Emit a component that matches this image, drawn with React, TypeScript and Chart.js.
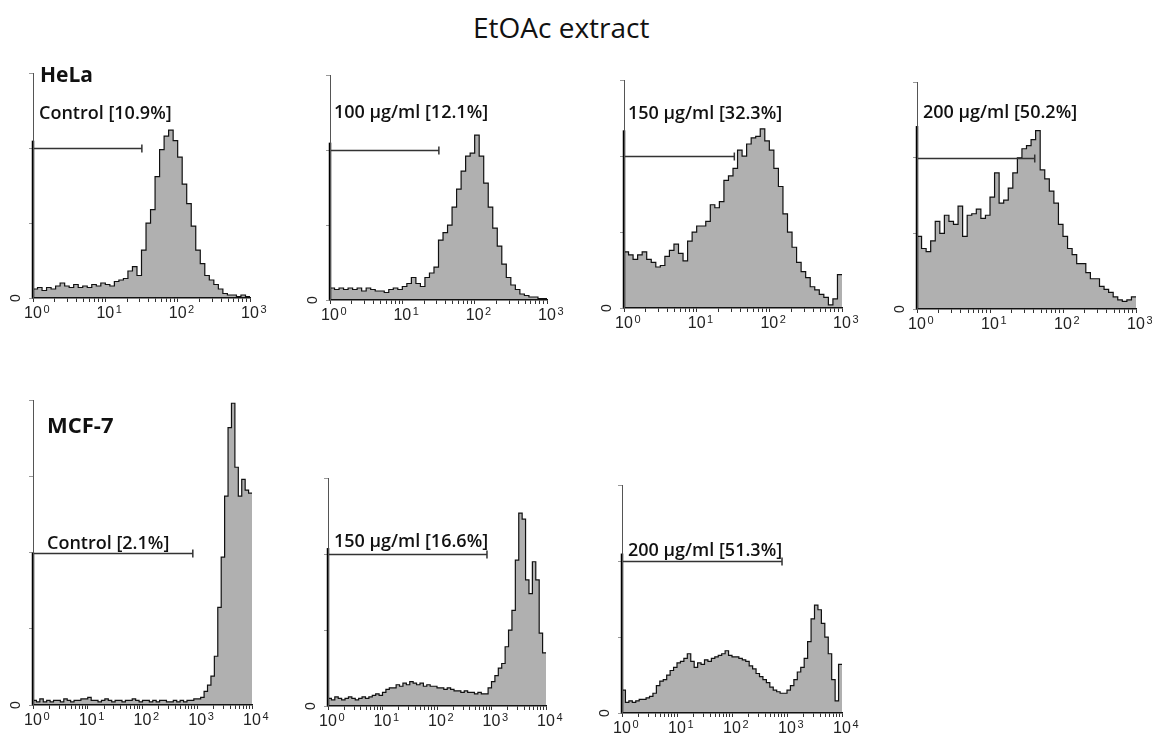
import React, { useEffect, useRef } from 'react';
import { Chart, registerables } from 'chart.js';
Chart.register(...registerables);

// ---------- data ----------
const titleText = 'EtOAc extract';
const rowLabels = ['HeLa', 'MCF-7'];
const xTickBase = '10';
const xTickExponentsTop = ['0', '1', '2', '3'];
const xTickExponentsBottom = ['0', '1', '2', '3', '4'];
const yZeroLabel = '0';
const binsPerDecade = 16;
const gateLevel = 100;

const panelNames = [
  'Control [10.9%]',
  '100 µg/ml [12.1%]',
  '150 µg/ml [32.3%]',
  '200 µg/ml [50.2%]',
  'Control [2.1%]',
  '150 µg/ml [16.6%]',
  '200 µg/ml [51.3%]',
];

// histogram counts, 16 bins per decade (log fluorescence)
const helaControl = [6, 7, 5, 7, 6, 8, 10, 8, 7, 9, 7, 8, 7, 9, 8, 10, 9, 8, 11, 12, 13, 18, 21, 15, 32, 50, 59, 81, 99, 108, 112, 105, 94, 76, 63, 48, 32, 23, 15, 12, 9, 6, 3, 2, 2, 1, 2, 1];
const hela100 = [8, 7, 8, 7, 8, 7, 8, 6, 8, 7, 6, 6, 5, 7, 8, 7, 9, 11, 15, 11, 9, 15, 18, 22, 40, 45, 50, 62, 74, 86, 96, 98, 110, 96, 78, 62, 48, 36, 24, 15, 10, 7, 4, 3, 2, 2, 1, 1];
const hela150 = [37, 35, 32, 35, 37, 32, 30, 27, 28, 34, 38, 42, 36, 31, 44, 50, 54, 54, 57, 68, 66, 70, 84, 87, 92, 104, 100, 108, 112, 113, 118, 110, 104, 92, 80, 62, 50, 40, 30, 24, 20, 14, 12, 9, 7, 2, 6, 22];
const hela200 = [48, 40, 38, 45, 58, 50, 62, 58, 56, 68, 48, 62, 63, 66, 60, 62, 74, 90, 70, 72, 80, 90, 100, 106, 108, 112, 118, 92, 86, 78, 70, 56, 48, 40, 36, 30, 30, 24, 20, 20, 15, 13, 11, 8, 6, 5, 6, 8];
const mcfControl = [3, 2, 4, 2, 3, 2, 3, 3, 2, 4, 3, 2, 3, 3, 4, 4, 5, 3, 3, 2, 3, 4, 3, 2, 3, 3, 2, 3, 3, 4, 3, 2, 3, 3, 2, 3, 2, 3, 3, 2, 2, 3, 2, 3, 2, 3, 3, 4, 4, 5, 9, 13, 19, 32, 64, 97, 137, 182, 198, 156, 137, 148, 141, 139];
const mcf150 = [5, 4, 6, 5, 4, 5, 6, 5, 4, 5, 6, 5, 6, 7, 8, 7, 9, 11, 12, 12, 14, 13, 15, 14, 16, 15, 14, 15, 13, 14, 13, 13, 12, 12, 11, 12, 11, 10, 10, 9, 10, 9, 9, 8, 9, 8, 8, 12, 16, 20, 25, 28, 39, 50, 63, 96, 127, 123, 83, 74, 95, 83, 48, 35];
const mcf200 = [15, 7, 8, 7, 8, 9, 9, 10, 11, 13, 18, 21, 22, 25, 28, 30, 33, 34, 36, 39, 34, 30, 33, 32, 35, 34, 36, 37, 38, 39, 41, 38, 37, 37, 36, 35, 34, 31, 29, 26, 24, 22, 20, 17, 15, 14, 13, 13, 15, 18, 22, 27, 30, 36, 47, 62, 71, 68, 59, 50, 39, 22, 8, 32];

const gateEnds = [32, 32, 33, 41, 830, 826, 812];
const pileUps = [105, 105, 117, 121, 100, 104, 105];
const yMaxes = [150, 150, 150, 150, 200, 150, 150];

// ---------- layout ----------
const PAD_L = 34;
const PAD_T = 10;
const PAD_R = 22;
const X_H = 26;
const TICK_FONT = '"Liberation Sans", "DejaVu Sans", sans-serif';

type Panel = {
  values: number[];
  decades: number;
  exps: string[];
  yMax: number;
  gateEnd: number;
  pile: number;
  label: string;
  labelY: number;
  labelDx: number;
  box: { x: number; top: number; right: number; bottom: number };
};

const panels: Panel[] = [
  { values: helaControl, decades: 3, exps: xTickExponentsTop, yMax: yMaxes[0], gateEnd: gateEnds[0], pile: pileUps[0], label: panelNames[0], labelY: 123, labelDx: 6, box: { x: 33, top: 73, right: 250, bottom: 298 } },
  { values: hela100, decades: 3, exps: xTickExponentsTop, yMax: yMaxes[1], gateEnd: gateEnds[1], pile: pileUps[1], label: panelNames[1], labelY: 125, labelDx: 4, box: { x: 330, top: 75, right: 547, bottom: 300 } },
  { values: hela150, decades: 3, exps: xTickExponentsTop, yMax: yMaxes[2], gateEnd: gateEnds[2], pile: pileUps[2], label: panelNames[2], labelY: 128, labelDx: 4, box: { x: 624, top: 80, right: 842, bottom: 308 } },
  { values: hela200, decades: 3, exps: xTickExponentsTop, yMax: yMaxes[3], gateEnd: gateEnds[3], pile: pileUps[3], label: panelNames[3], labelY: 130, labelDx: 6, box: { x: 917, top: 82, right: 1136, bottom: 309 } },
  { values: mcfControl, decades: 4, exps: xTickExponentsBottom, yMax: yMaxes[4], gateEnd: gateEnds[4], pile: pileUps[4], label: panelNames[4], labelY: 106, labelDx: 14, box: { x: 33, top: 400, right: 252, bottom: 705 } },
  { values: mcf150, decades: 4, exps: xTickExponentsBottom, yMax: yMaxes[5], gateEnd: gateEnds[5], pile: pileUps[5], label: panelNames[5], labelY: 108, labelDx: 6, box: { x: 328, top: 478, right: 546, bottom: 706 } },
  { values: mcf200, decades: 4, exps: xTickExponentsBottom, yMax: yMaxes[6], gateEnd: gateEnds[6], pile: pileUps[6], label: panelNames[6], labelY: 107, labelDx: 6, box: { x: 622, top: 485, right: 842, bottom: 713 } },
];

function HistPanel({ p }: { p: Panel }) {
  const ref = useRef<HTMLCanvasElement>(null);
  const w = p.box.right - p.box.x + PAD_L + PAD_R;
  const h = p.box.bottom - p.box.top + PAD_T + X_H;

  useEffect(() => {
    if (!ref.current) return;
    const pts = p.values.map((v, i) => ({ x: Math.pow(10, i / binsPerDecade), y: v }));
    pts.push({ x: Math.pow(10, p.decades), y: p.values[p.values.length - 1] });
    const tickVals: number[] = [];
    for (let d = 0; d < p.decades; d++) {
      for (let m = 1; m <= 9; m++) tickVals.push(m * Math.pow(10, d));
    }
    tickVals.push(Math.pow(10, p.decades));

    const gatePlugin = {
      id: 'gate',
      afterDatasetsDraw(chart: any) {
        const { ctx, scales } = chart;
        const xs = scales.x;
        const ys = scales.y;
        const x0 = xs.getPixelForValue(1);
        ctx.save();
        // pile-up in first channel
        ctx.strokeStyle = '#000';
        ctx.lineWidth = 2.5;
        ctx.beginPath();
        ctx.moveTo(x0, ys.getPixelForValue(0));
        ctx.lineTo(x0, ys.getPixelForValue(p.pile));
        ctx.stroke();
        // gate marker
        const gy = Math.round(ys.getPixelForValue(gateLevel)) + 0.5;
        const gx = xs.getPixelForValue(p.gateEnd);
        ctx.strokeStyle = '#333';
        ctx.lineWidth = 1.5;
        ctx.beginPath();
        ctx.moveTo(x0, gy);
        ctx.lineTo(gx, gy);
        ctx.moveTo(gx, gy - 4);
        ctx.lineTo(gx, gy + 4);
        ctx.stroke();
        // label
        ctx.fillStyle = '#111';
        ctx.font = '600 18px "Open Sans"';
        ctx.textBaseline = 'middle';
        ctx.textAlign = 'left';
        ctx.fillText(p.label, x0 + p.labelDx, ys.getPixelForValue(p.labelY));
        ctx.restore();
      },
      afterDraw(chart: any) {
        const { ctx, scales } = chart;
        const xs = scales.x;
        const ys = scales.y;
        const yb = ys.getPixelForValue(0);
        ctx.save();
        ctx.fillStyle = '#222';
        // decade labels 10^n
        p.exps.forEach((e, d) => {
          const px = xs.getPixelForValue(Math.pow(10, d));
          ctx.font = `16px ${TICK_FONT}`;
          ctx.textAlign = 'center';
          ctx.textBaseline = 'top';
          ctx.fillText(xTickBase, px, yb + 8);
          const bw = ctx.measureText(xTickBase).width;
          ctx.font = `11px ${TICK_FONT}`;
          ctx.textAlign = 'left';
          ctx.fillText(e, px + bw / 2 + 1.5, yb + 6);
        });
        // rotated zero on y axis
        ctx.translate(xs.getPixelForValue(1) - 17, yb);
        ctx.rotate(-Math.PI / 2);
        ctx.font = `14px ${TICK_FONT}`;
        ctx.textAlign = 'center';
        ctx.textBaseline = 'middle';
        ctx.fillText(yZeroLabel, 0, 0);
        ctx.restore();
      },
    };

    const chart = new Chart(ref.current, {
      type: 'line',
      data: {
        datasets: [
          {
            data: pts,
            stepped: true,
            borderColor: '#111',
            borderWidth: 1.2,
            backgroundColor: '#b0b0b0',
            fill: 'origin',
            pointRadius: 0,
            tension: 0,
          },
        ],
      },
      options: {
        animation: false,
        responsive: false,
        devicePixelRatio: 1,
        layout: { padding: { left: 0, top: PAD_T, right: PAD_R, bottom: 0 } },
        plugins: { legend: { display: false }, tooltip: { enabled: false } },
        scales: {
          x: {
            type: 'logarithmic',
            min: 1,
            max: Math.pow(10, p.decades),
            afterBuildTicks: (s: any) => {
              s.ticks = tickVals.map((v) => ({ value: v }));
            },
            afterFit: (s: any) => {
              s.height = X_H;
            },
            grid: { drawOnChartArea: false, drawTicks: true, tickLength: 4, color: '#333', lineWidth: 1 },
            border: { display: true, color: '#111', width: 1.5, z: 1 },
            ticks: {
              autoSkip: false,
              maxRotation: 0,
              minRotation: 0,
              padding: 1,
              callback: () => '',
            },
          },
          y: {
            type: 'linear',
            min: 0,
            max: p.yMax,
            afterFit: (s: any) => {
              s.width = PAD_L;
            },
            grid: { drawOnChartArea: false, drawTicks: true, tickLength: 4, color: '#999', lineWidth: 1 },
            border: { display: true, color: '#555', width: 1, z: 1 },
            ticks: {
              stepSize: 50,
              callback: () => '',
            },
          },
        },
      },
      plugins: [gatePlugin],
    } as any);
    return () => chart.destroy();
  }, [p]);

  return (
    <canvas
      ref={ref}
      width={w}
      height={h}
      style={{ position: 'absolute', left: p.box.x - PAD_L, top: p.box.top - PAD_T, width: w, height: h }}
    />
  );
}

export default function App() {
  return (
    <div style={{ position: 'absolute', left: 0, top: 0, width: 1152, height: 733, overflow: 'hidden', background: '#fff' }}>
      {panels.map((p, i) => (
        <HistPanel key={i} p={p} />
      ))}
      <div style={{ position: 'absolute', left: 473, top: 13, fontFamily: '"Open Sans", sans-serif', fontSize: 28, lineHeight: '28px', color: '#111', whiteSpace: 'nowrap' }}>
        {titleText}
      </div>
      <div style={{ position: 'absolute', left: 40, top: 64, fontFamily: '"Open Sans", sans-serif', fontWeight: 700, fontSize: 21, lineHeight: '21px', color: '#111' }}>
        {rowLabels[0]}
      </div>
      <div style={{ position: 'absolute', left: 47, top: 413, fontFamily: '"Open Sans", sans-serif', fontWeight: 700, fontSize: 22, lineHeight: '22px', color: '#111' }}>
        {rowLabels[1]}
      </div>
    </div>
  );
}
